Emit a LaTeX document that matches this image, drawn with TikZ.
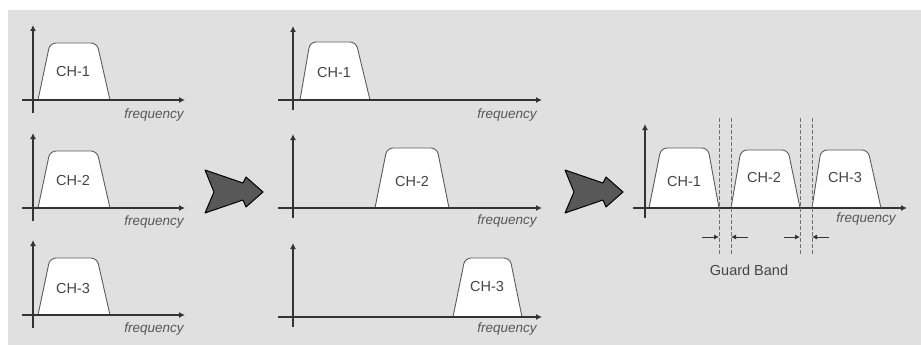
\documentclass[tikz,border=0pt]{standalone}
\usepackage{fontspec}
\setmainfont{Liberation Sans}
\usetikzlibrary{arrows.meta}
\definecolor{panel}{HTML}{E0E0E0}
\definecolor{ink}{HTML}{333333}
\definecolor{txt}{HTML}{444444}
\definecolor{arrowfill}{HTML}{585858}
\tikzset{
  axis/.style={draw=ink, line width=2.2pt, -{Latex[length=6pt,width=6pt]}},
  chan/.style={draw=ink!80, fill=white, line width=0.9pt, rounded corners=6pt},
  chlabel/.style={text=txt, font=\fontsize{14.5}{16}\selectfont, inner sep=0pt},
  freqlabel/.style={text=txt!90, font=\fontsize{13.5}{15}\selectfont\itshape, inner sep=0pt},
  guard/.style={draw=ink!70, line width=0.6pt, dash pattern=on 4pt off 2pt},
  gbarrow/.style={draw=ink, line width=0.8pt, -{Latex[length=5pt,width=5pt]}},
  bigarrow/.style={draw=black, fill=arrowfill, line width=1pt, line join=round},
}
\begin{document}
\begin{tikzpicture}[x=1pt,y=-1pt]
\useasboundingbox (0,0) rectangle (921,345);
\fill[panel] (8,10) rectangle (921,345);

% ---------- left column ----------
\foreach \r/\ax/\top/\ly/\fy/\lab in {1/100/43/72/115/CH-1, 2/208/151/181/222/CH-2, 3/315/258/289/329/CH-3}{
  \draw[chan] (38,\ax) -- (50,\top) -- (97,\top) -- (110,\ax);
  \node[chlabel] (L\r) at (73,\ly) {\lab};
  \coordinate (Lv\r a) at (33,\ax+13);
  \coordinate (Lv\r b) at (33,\ax-75);
  \coordinate (Lh\r a) at (22,\ax);
  \coordinate (Lh\r b) at (185,\ax);
  \draw[axis] (Lv\r a) -- (Lv\r b);
  \draw[axis] (Lh\r a) -- (Lh\r b);
  \node[freqlabel] (Lf\r) at (154,\fy) {frequency};
}

% ---------- middle column ----------
\draw[chan] (300,100) -- (310,42) -- (356,42) -- (370,100);
\node[chlabel] (M1) at (334,73) {CH-1};
\draw[chan] (375,208) -- (387,148) -- (437,148) -- (449,208);
\node[chlabel] (M2) at (412,182) {CH-2};
\draw[chan] (453,317) -- (465,258) -- (510,258) -- (522,317);
\node[chlabel] (M3) at (487,287) {CH-3};
\foreach \r/\ax/\fy in {1/100/115, 2/208/221, 3/317/329}{
  \coordinate (Mv\r a) at (293,\ax+10);
  \coordinate (Mv\r b) at (293,\ax-74);
  \coordinate (Mh\r a) at (278,\ax);
  \coordinate (Mh\r b) at (542,\ax);
  \draw[axis] (Mv\r a) -- (Mv\r b);
  \draw[axis] (Mh\r a) -- (Mh\r b);
  \node[freqlabel] (Mf\r) at (507,\fy) {frequency};
}

% ---------- big arrows ----------
\draw[bigarrow] (205,170) -- (243,183) -- (246,177) -- (263,192) -- (246,207) -- (243,200) -- (205,213) -- (214,192) -- cycle;
\draw[bigarrow] (565,170) -- (603,183) -- (606,177) -- (623,192) -- (606,207) -- (603,200) -- (565,213) -- (574,192) -- cycle;

% ---------- right diagram ----------
\draw[chan] (649,208) -- (661,148) -- (708,148) -- (719,208);
\node[chlabel] (R1) at (684,182) {CH-1};
\draw[chan] (731,208) -- (741,150) -- (788,150) -- (800,208);
\node[chlabel] (R2) at (764,178) {CH-2};
\draw[chan] (812,208) -- (821,150) -- (868,150) -- (881,208);
\node[chlabel] (R3) at (845,178) {CH-3};

\coordinate (Rva) at (645,218);
\coordinate (Rvb) at (645,124);
\coordinate (Rha) at (633,208);
\coordinate (Rhb) at (907,208);
\draw[axis] (Rva) -- (Rvb);
\draw[axis] (Rha) -- (Rhb);
\node[freqlabel] (Rf) at (866,219) {frequency};

\foreach \n/\x in {a/719, b/731, c/800, d/812}{
  \coordinate (G\n t) at (\x,118);
  \coordinate (G\n b) at (\x,255);
  \draw[guard] (G\n t) -- (G\n b);
}
\coordinate (A1) at (702,237);
\coordinate (A1e) at (719,237);
\coordinate (A2) at (748,237);
\coordinate (A2e) at (731,237);
\coordinate (A3) at (784,237);
\coordinate (A3e) at (800,237);
\coordinate (A4) at (829,237);
\coordinate (A4e) at (812,237);
\draw[gbarrow] (A1) -- (A1e);
\draw[gbarrow] (A2) -- (A2e);
\draw[gbarrow] (A3) -- (A3e);
\draw[gbarrow] (A4) -- (A4e);
\node[chlabel] (GB) at (749,270) {Guard Band};
\end{tikzpicture}
\end{document}
